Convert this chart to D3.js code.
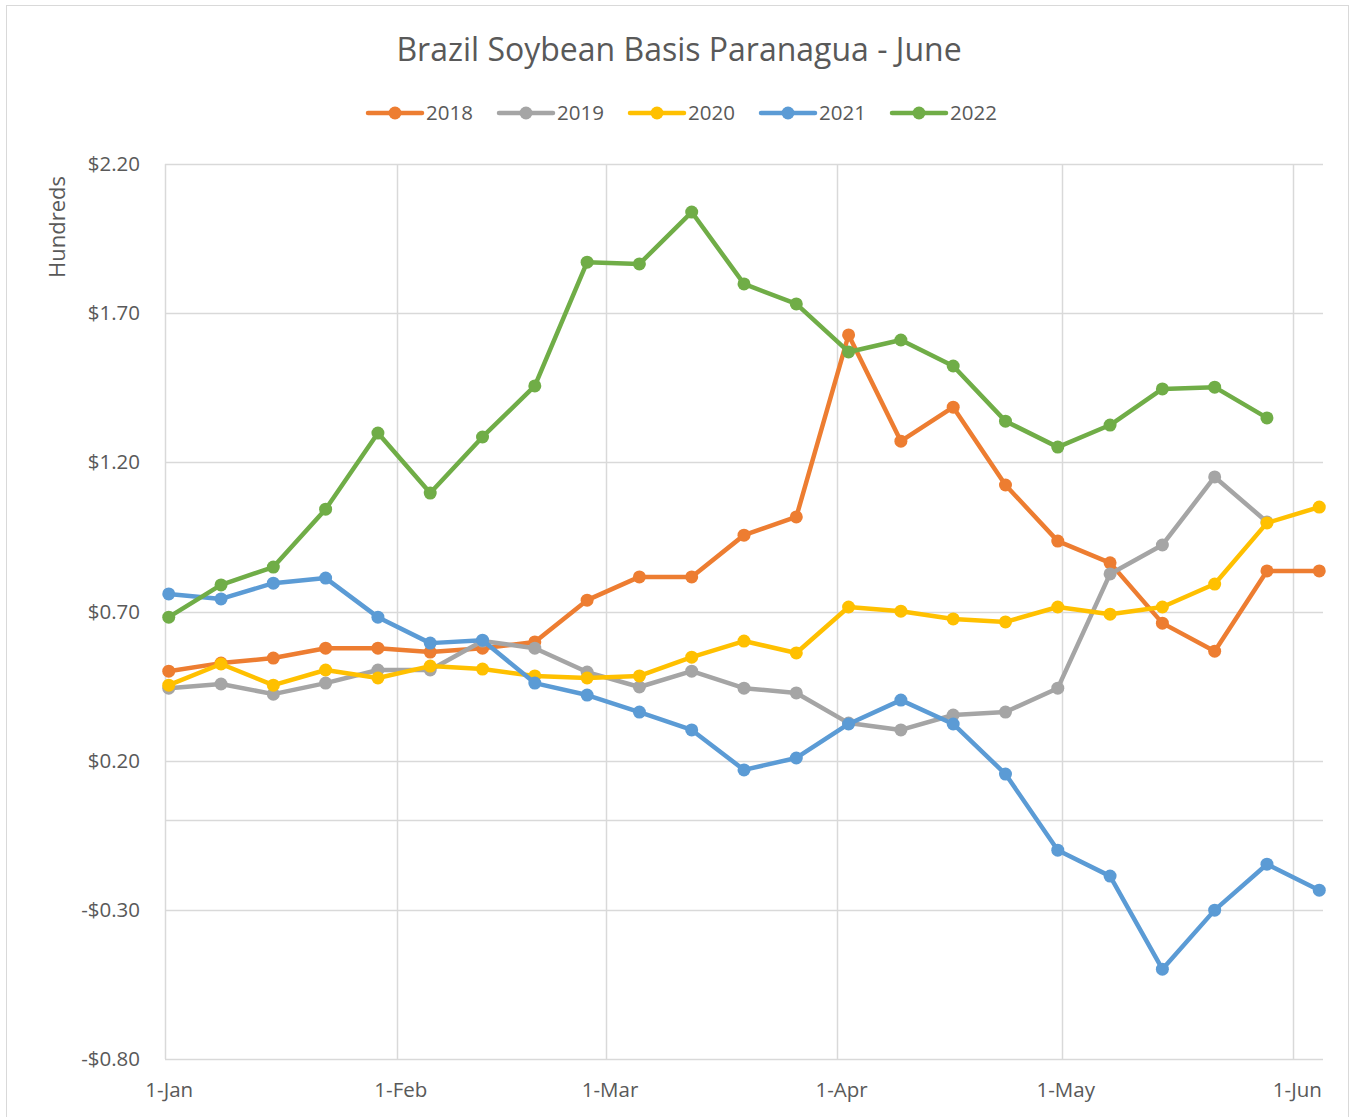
<!DOCTYPE html>
<html>
<head>
<meta charset="utf-8">
<script src="https://cdn.jsdelivr.net/npm/d3@7"></script>
<style>
  body { margin: 0; background: #fff; }
  text { font-family: "Open Sans", "Noto Sans", sans-serif; fill: #595959; }
</style>
</head>
<body>
<div id="chart"></div>
<script>
// weekly observation dates (plotted on one common year)
const dates = [
  '2022-01-01', '2022-01-08', '2022-01-15', '2022-01-22', '2022-01-29',
  '2022-02-05', '2022-02-12', '2022-02-19', '2022-02-26', '2022-03-05',
  '2022-03-12', '2022-03-19', '2022-03-26', '2022-04-02', '2022-04-09',
  '2022-04-16', '2022-04-23', '2022-04-30', '2022-05-07', '2022-05-14',
  '2022-05-21', '2022-05-28', '2022-06-04',
];

const years = ['2018', '2019', '2020', '2021', '2022'];
const colors = ['#ED7D31', '#A5A5A5', '#FFC000', '#5B9BD5', '#70AD47'];

const basis2018 = [0.50, 0.527, 0.544, 0.577, 0.577, 0.564, 0.577, 0.598, 0.738, 0.816,
  0.816, 0.956, 1.017, 1.627, 1.271, 1.385, 1.124, 0.936, 0.863, 0.661, 0.567, 0.836, 0.836];
const basis2019 = [0.443, 0.457, 0.423, 0.460, 0.504, 0.504, 0.601, 0.577, 0.497, 0.447,
  0.500, 0.443, 0.427, 0.326, 0.303, 0.353, 0.363, 0.443, 0.826, 0.923, 1.151, 1.000];
const basis2020 = [0.453, 0.524, 0.453, 0.504, 0.477, 0.517, 0.507, 0.484, 0.477, 0.484,
  0.547, 0.601, 0.561, 0.715, 0.701, 0.675, 0.665, 0.715, 0.691, 0.715, 0.792, 0.997, 1.050];
const basis2021 = [0.759, 0.742, 0.795, 0.812, 0.681, 0.594, 0.604, 0.460, 0.420, 0.363,
  0.303, 0.169, 0.209, 0.323, 0.403, 0.323, 0.155, -0.100, -0.187, -0.499, -0.301, -0.147, -0.234];
const basis2022 = [0.681, 0.789, 0.849, 1.043, 1.298, 1.097, 1.285, 1.456, 1.871, 1.865,
  2.039, 1.798, 1.731, 1.570, 1.610, 1.523, 1.338, 1.251, 1.325, 1.446, 1.452, 1.349];

const yTicks = [2.2, 1.7, 1.2, 0.7, 0.2, -0.3, -0.8];
const monthTicks = ['2022-01-01', '2022-02-01', '2022-03-01', '2022-04-01', '2022-05-01', '2022-06-01'];

const allSeries = [basis2018, basis2019, basis2020, basis2021, basis2022];

const width = 1351, height = 1117;
const margin = { top: 164, right: 28, bottom: 58, left: 165 };
const parse = d3.timeParse('%Y-%m-%d');
const halfDay = 12 * 3600 * 1000;

const svg = d3.select('#chart').append('svg')
  .attr('width', width).attr('height', height);

// outer chart border
svg.append('rect')
  .attr('x', 6.5).attr('y', 5.5)
  .attr('width', 1342).attr('height', 1120)
  .attr('fill', 'none').attr('stroke', '#d9d9d9').attr('stroke-width', 1);

const xScale = d3.scaleTime()
  .domain([parse('2022-01-01'), parse('2022-06-05')])
  .range([margin.left, width - margin.right]);
const yScale = d3.scaleLinear()
  .domain([-0.8, 2.2])
  .range([height - margin.bottom, margin.top]);

// grid
const grid = svg.append('g');
grid.selectAll('.hgrid').data(yTicks.concat([0])).join('line')
  .attr('x1', margin.left).attr('x2', width - margin.right)
  .attr('y1', d => Math.round(yScale(d)) + 0.5).attr('y2', d => Math.round(yScale(d)) + 0.5)
  .attr('stroke', '#d9d9d9').attr('stroke-width', 1.5);
grid.selectAll('.vgrid').data(monthTicks).join('line')
  .attr('x1', d => Math.round(xScale(parse(d))) + 0.5).attr('x2', d => Math.round(xScale(parse(d))) + 0.5)
  .attr('y1', margin.top).attr('y2', height - margin.bottom)
  .attr('stroke', '#d9d9d9').attr('stroke-width', 1.5);

// y axis labels
const fmt = v => (v < 0 ? '-$' : '$') + Math.abs(v).toFixed(2);
const yAxis = d3.axisLeft(yScale).tickValues(yTicks).tickFormat(fmt).tickSize(0).tickPadding(25);
svg.append('g')
  .attr('transform', `translate(${margin.left},0)`)
  .call(yAxis)
  .call(g => g.select('.domain').remove())
  .call(g => g.selectAll('text').style('font-size', '20.5px').attr('fill', '#595959')
    .style('font-family', '"Open Sans", sans-serif'));

// x axis labels (centred in the day slot, like Excel date axes)
const xAxis = d3.axisBottom(xScale)
  .tickValues(monthTicks.map(d => new Date(parse(d).getTime() + halfDay)))
  .tickFormat(d3.timeFormat('%-d-%b')).tickSize(0).tickPadding(23);
svg.append('g')
  .attr('transform', `translate(0,${height - margin.bottom})`)
  .call(xAxis)
  .call(g => g.select('.domain').remove())
  .call(g => g.selectAll('text').style('font-size', '20.5px').attr('fill', '#595959')
    .style('font-family', '"Open Sans", sans-serif'));

// axis title
svg.append('text')
  .attr('transform', 'translate(65,227) rotate(-90)')
  .attr('text-anchor', 'middle')
  .style('font-size', '22px')
  .text('Hundreds');

// title
svg.append('text')
  .attr('x', 679).attr('y', 61)
  .attr('text-anchor', 'middle')
  .style('font-size', '32px')
  .text('Brazil Soybean Basis Paranagua - June');

// series
const line = d3.line()
  .x((d, i) => xScale(new Date(parse(dates[i]).getTime() + halfDay)))
  .y(d => yScale(d));

allSeries.forEach((values, s) => {
  const g = svg.append('g');
  g.append('path')
    .datum(values)
    .attr('d', line)
    .attr('fill', 'none')
    .attr('stroke', colors[s])
    .attr('stroke-width', 4.5)
    .attr('stroke-linejoin', 'round')
    .attr('stroke-linecap', 'round');
  g.selectAll('circle').data(values).join('circle')
    .attr('cx', (d, i) => xScale(new Date(parse(dates[i]).getTime() + halfDay)))
    .attr('cy', d => yScale(d))
    .attr('r', 6.5)
    .attr('fill', colors[s]);
});

// legend
const legend = svg.append('g').attr('transform', 'translate(368,113)');
const item = legend.selectAll('g').data(years).join('g')
  .attr('transform', (d, i) => `translate(${i * 131},0)`);
item.append('line')
  .attr('x1', 0).attr('x2', 54).attr('y1', 0).attr('y2', 0)
  .attr('stroke', (d, i) => colors[i]).attr('stroke-width', 4.5)
  .attr('stroke-linecap', 'round');
item.append('circle')
  .attr('cx', 27).attr('cy', 0).attr('r', 6.5)
  .attr('fill', (d, i) => colors[i]);
item.append('text')
  .attr('x', 58).attr('y', 7)
  .style('font-size', '20.5px')
  .text(d => d);
</script>
</body>
</html>
